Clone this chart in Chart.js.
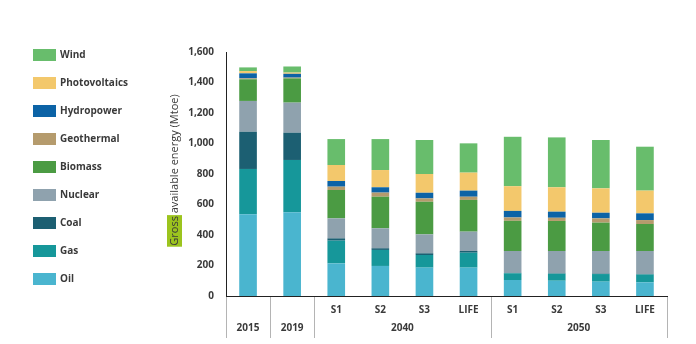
<!DOCTYPE html>
<html>
<head>
<meta charset="utf-8">
<script src="https://cdn.jsdelivr.net/npm/chart.js@4.4.0/dist/chart.umd.min.js"></script>
<style>
    html, body { margin: 0; padding: 0; background: #ffffff; }
    #wrap { position: relative; width: 696px; height: 344px; }
    #energyChart { position: absolute; left: 0; top: 0; }
    #legend { position: absolute; left: 33px; top: 40px; font-family: "Open Sans", "Noto Sans", sans-serif; }
    .legend-item { position: absolute; left: 0; height: 14px; width: 140px; }
    .legend-box { position: absolute; left: 0; top: 1px; width: 23px; height: 12px; }
    .legend-text { position: absolute; left: 27px; top: -1px; font-size: 10px; font-weight: bold; color: #3a3a3a; white-space: nowrap; }
</style>
</head>
<body>
<div id="wrap">
    <canvas id="energyChart" width="696" height="344"></canvas>
    <div id="legend"></div>
</div>
<script>
// Categories
const subLabels = ['', '', 'S1', 'S2', 'S3', 'LIFE', 'S1', 'S2', 'S3', 'LIFE'];
const groupLabels = ['2015', '2019', '2040', '2050'];
const groupSizes = [1, 1, 4, 4];

// Series values (Mtoe), bottom of the stack first
const oil = [536, 549, 214, 197, 186, 186, 105, 100, 94, 90];
const gas = [297, 343, 149, 105, 83, 98, 44, 46, 50, 51];
const coal = [244, 179, 15, 11, 11, 11, 3, 3, 3, 3];
const nuclear = [202, 197, 131, 131, 124, 127, 143, 146, 148, 151];
const biomass = [142, 159, 186, 207, 214, 208, 198, 197, 186, 177];
const geothermal = [6, 5, 22, 27, 22, 21, 22, 21, 28, 26];
const hydropower = [33, 25, 37, 35, 37, 40, 43, 40, 37, 44];
const photovoltaics = [15, 8, 105, 113, 123, 118, 162, 160, 160, 149];
const wind = [24, 40, 170, 203, 223, 192, 324, 327, 317, 288];

// Axis
const yMax = 1600;
const yStep = 200;
const yTitle = ['Gross', ' available energy (Mtoe)'];

const series = [
    { label: 'Oil', data: oil, color: '#4ab5cf' },
    { label: 'Gas', data: gas, color: '#16979a' },
    { label: 'Coal', data: coal, color: '#1c5f72' },
    { label: 'Nuclear', data: nuclear, color: '#8fa2ae' },
    { label: 'Biomass', data: biomass, color: '#4b9b43' },
    { label: 'Geothermal', data: geothermal, color: '#b59b6d' },
    { label: 'Hydropower', data: hydropower, color: '#0c63a6' },
    { label: 'Photovoltaics', data: photovoltaics, color: '#f3c86c' },
    { label: 'Wind', data: wind, color: '#68bd6c' }
];

const FONT = '"Open Sans", "Noto Sans", sans-serif';
const TEXT = '#3a3a3a';

// Group labels and separators under the x axis
const groupAxisPlugin = {
    id: 'groupAxis',
    afterDraw(chart) {
        const ctx = chart.ctx;
        const x = chart.scales.x;
        const step = x.getPixelForValue(1) - x.getPixelForValue(0);
        const top = chart.chartArea.bottom + 1;
        ctx.save();
        ctx.strokeStyle = '#b4b4b4';
        ctx.lineWidth = 1;
        let idx = 0;
        const edges = [x.getPixelForValue(0) - step / 2];
        groupLabels.forEach((label, i) => {
            const start = x.getPixelForValue(idx) - step / 2;
            idx += groupSizes[i];
            const end = x.getPixelForValue(idx - 1) + step / 2;
            edges.push(end);
            ctx.fillStyle = TEXT;
            ctx.font = 'bold 10px ' + FONT;
            ctx.textAlign = 'center';
            ctx.textBaseline = 'middle';
            ctx.fillText(label, (start + end) / 2, 328);
        });
        edges.forEach(px => {
            const p = Math.round(px) + 0.5;
            ctx.beginPath();
            ctx.moveTo(p, top);
            ctx.lineTo(p, 338);
            ctx.stroke();
        });
        ctx.restore();
    }
};

// Rotated y title with highlighted first word
const yTitlePlugin = {
    id: 'yTitle',
    afterDraw(chart) {
        const ctx = chart.ctx;
        const area = chart.chartArea;
        ctx.save();
        ctx.font = '11px ' + FONT;
        const w0 = ctx.measureText(yTitle[0]).width;
        const w1 = ctx.measureText(yTitle[1]).width;
        const total = w0 + w1;
        ctx.translate(175, (area.top + area.bottom) / 2 - 4);
        ctx.rotate(-Math.PI / 2);
        const start = -total / 2;
        ctx.fillStyle = '#9cc41e';
        ctx.fillRect(start - 1, -8, w0 + 2, 15);
        ctx.fillStyle = TEXT;
        ctx.textBaseline = 'middle';
        ctx.textAlign = 'left';
        ctx.fillText(yTitle[0], start, 0);
        ctx.fillText(yTitle[1], start + w0, 0);
        ctx.restore();
    }
};

const chart = new Chart(document.getElementById('energyChart'), {
    type: 'bar',
    data: {
        labels: subLabels,
        datasets: series.map(s => ({
            label: s.label,
            data: s.data,
            backgroundColor: s.color,
            borderWidth: 0,
            barPercentage: 0.4,
            categoryPercentage: 1
        }))
    },
    options: {
        responsive: false,
        animation: false,
        layout: { padding: { left: 166, right: 29, top: 52, bottom: 0 } },
        plugins: {
            legend: { display: false },
            tooltip: { enabled: false }
        },
        scales: {
            x: {
                stacked: true,
                grid: { display: false, drawTicks: false },
                border: { display: true, color: '#222222', width: 1 },
                ticks: {
                    color: TEXT,
                    font: { family: FONT, size: 10, weight: 'bold' },
                    padding: 8,
                    maxRotation: 0,
                    autoSkip: false
                },
                afterFit(scale) { scale.height = 48; }
            },
            y: {
                stacked: true,
                min: 0,
                max: yMax,
                grid: { display: false, drawTicks: false },
                border: { display: true, color: '#222222', width: 1 },
                ticks: {
                    stepSize: yStep,
                    color: TEXT,
                    font: { family: FONT, size: 10, weight: 'bold' },
                    padding: 12,
                    callback: v => v.toLocaleString('en-US')
                },
                afterFit(scale) { scale.width = 60; }
            }
        }
    },
    plugins: [groupAxisPlugin, yTitlePlugin]
});

// Legend on the left, top to bottom: Wind ... Oil
const legend = document.getElementById('legend');
series.slice().reverse().forEach((s, i) => {
    const item = document.createElement('div');
    item.className = 'legend-item';
    item.style.top = (8 + i * 28.06) + 'px';
    item.innerHTML = '<span class="legend-box" style="background:' + s.color + '"></span>' +
        '<span class="legend-text">' + s.label + '</span>';
    legend.appendChild(item);
});
</script>
</body>
</html>
